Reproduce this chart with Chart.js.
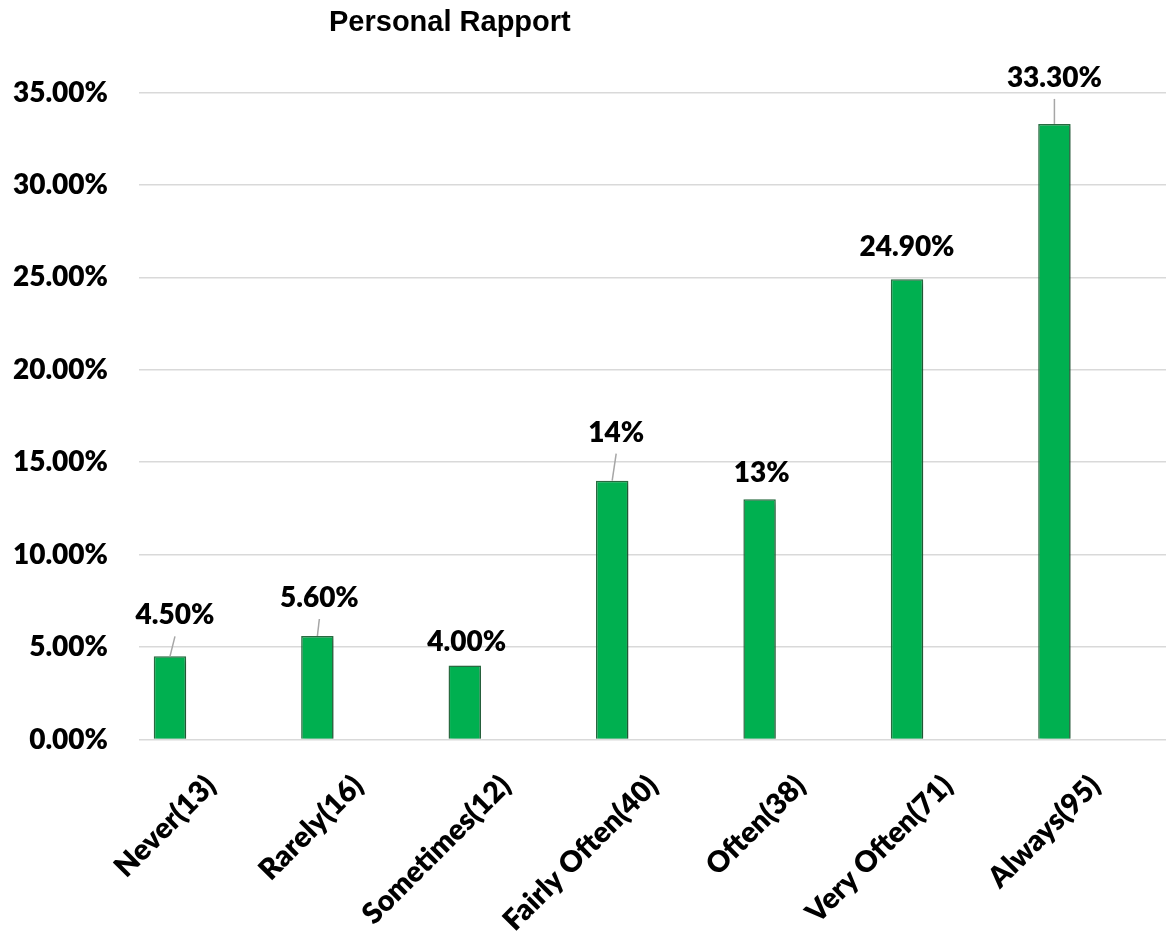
<!DOCTYPE html>
<html>
<head>
<meta charset="utf-8">
<title>Personal Rapport</title>
<script src="https://cdn.jsdelivr.net/npm/chart.js@4"></script>
<style>
  html, body { margin: 0; padding: 0; background: #fff; }
  canvas { display: block; }
</style>
</head>
<body>
<canvas id="chart" width="1166" height="933"></canvas>
<script>
// --- chart data ---
const categories = ['Never(13)', 'Rarely(16)', 'Sometimes(12)', 'Fairly Often(40)', 'Often(38)', 'Very Often(71)', 'Always(95)'];
const percentValues = [4.5, 5.6, 4.0, 14, 13, 24.9, 33.3];
const valueLabels = ['4.50%', '5.60%', '4.00%', '14%', '13%', '24.90%', '33.30%'];
const yTicks = [0, 5, 10, 15, 20, 25, 30, 35];

// label placement (dx, height of label centre above bar top), as placed by hand in the original
const labelNudge = [[5, 41], [2, 38], [2, 24], [4, 48], [2, 26], [0, 32], [0, 46]];

const LABEL_FONT = '800 28px Lato';

// value labels with small leader lines
const valueLabelPlugin = {
    id: 'valueLabels',
    afterDatasetsDraw(chart) {
        const ctx = chart.ctx;
        const bars = chart.getDatasetMeta(0).data;
        ctx.save();
        ctx.font = LABEL_FONT;
        ctx.textAlign = 'center';
        ctx.textBaseline = 'middle';
        bars.forEach((bar, i) => {
            const lx = bar.x + labelNudge[i][0];
            const ly = bar.y - labelNudge[i][1];
            if (labelNudge[i][1] > 35) {
                ctx.strokeStyle = '#a6a6a6';
                ctx.lineWidth = 1.5;
                ctx.beginPath();
                ctx.moveTo(bar.x, bar.y);
                ctx.lineTo(lx, ly + 21);
                ctx.stroke();
            }
            ctx.fillStyle = '#000';
            ctx.fillText(valueLabels[i], lx, ly);
        });
        ctx.restore();
    }
};

// soft shadow behind the bars
const barShadowPlugin = {
    id: 'barShadow',
    beforeDatasetsDraw(chart) {
        chart.ctx.save();
        chart.ctx.shadowColor = 'rgba(0,0,0,0.3)';
        chart.ctx.shadowBlur = 5;
        chart.ctx.shadowOffsetX = 2;
        chart.ctx.shadowOffsetY = 2;
    },
    afterDatasetsDraw(chart) {
        chart.ctx.restore();
    }
};

// title sits left of centre in the original
const titlePlugin = {
    id: 'leftTitle',
    afterDraw(chart) {
        const ctx = chart.ctx;
        ctx.save();
        ctx.font = 'bold 29px "Liberation Sans"';
        ctx.fillStyle = '#000';
        ctx.textAlign = 'left';
        ctx.textBaseline = 'alphabetic';
        ctx.fillText('Personal Rapport', 329, 31);
        ctx.restore();
    }
};

const ctx = document.getElementById('chart').getContext('2d');
new Chart(ctx, {
    type: 'bar',
    data: {
        datasets: [{
            data: percentValues.map((v, i) => ({ x: i, y: v })),
            backgroundColor: '#00b050',
            borderColor: '#2a6f43',
            borderWidth: 1.5,
            barPercentage: 0.22,
            categoryPercentage: 1
        }]
    },
    options: {
        responsive: false,
        animation: false,
        layout: { padding: { top: 92.5, left: 0, right: 0, bottom: 0 } },
        plugins: {
            legend: { display: false },
            tooltip: { enabled: false },
            title: { display: false }
        },
        scales: {
            x: {
                type: 'linear',
                offset: false,
                min: -0.21,
                max: 6.757,
                grid: { display: false },
                border: { display: false },
                afterBuildTicks: axis => { axis.ticks = categories.map((c, i) => ({ value: i })); },
                afterFit: axis => { axis.height = 193.5; },
                ticks: {
                    autoSkip: false,
                    maxRotation: 45,
                    minRotation: 45,
                    labelOffset: 41,
                    padding: 21,
                    color: '#000',
                    font: { family: 'Lato', size: 29, weight: '800' },
                    callback: v => categories[v]
                }
            },
            y: {
                min: 0,
                max: 35,
                afterBuildTicks: axis => { axis.ticks = yTicks.map(v => ({ value: v })); },
                afterFit: axis => { axis.width = 139; },
                grid: { color: '#d9d9d9', lineWidth: 1.5, drawTicks: false },
                border: { display: false },
                ticks: {
                    padding: 31,
                    color: '#000',
                    font: { family: 'Lato', size: 28, weight: '800' },
                    callback: v => v.toFixed(2) + '%'
                }
            }
        }
    },
    plugins: [barShadowPlugin, valueLabelPlugin, titlePlugin]
});
</script>
</body>
</html>
